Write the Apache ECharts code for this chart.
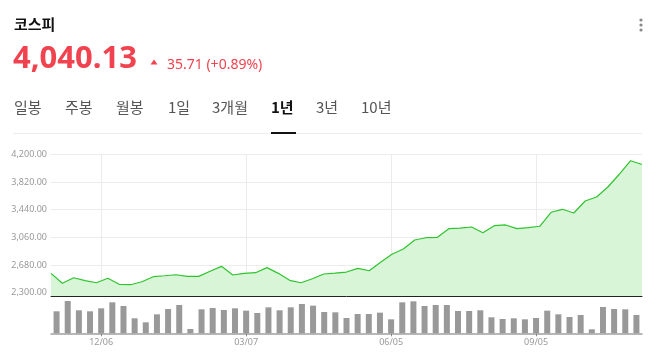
<!DOCTYPE html>
<html>
<head>
<meta charset="utf-8">
<script src="https://cdn.jsdelivr.net/npm/echarts@6/dist/echarts.min.js"></script>
<style>
html,body{margin:0;padding:0;background:#fff;}
#c{width:657px;height:354px;}
</style>
</head>
<body>
<div id="c"></div>
<script>
const dates = ['11/08','11/15','11/22','11/29','12/06','12/13','12/20','12/27','01/03','01/10',
  '01/17','01/24','01/31','02/07','02/14','02/21','02/28','03/07','03/14','03/21',
  '03/28','04/04','04/11','04/18','04/25','05/02','05/09','05/16','05/23','05/30',
  '06/05','06/13','06/20','06/27','07/04','07/11','07/18','07/25','08/01','08/08',
  '08/14','08/22','08/29','09/05','09/12','09/19','09/26','10/02','10/10','10/17',
  '10/24','10/31','11/07'];
const closes = [2566,2429,2506,2465,2437,2498,2415,2410,2451,2520,
  2533,2547,2525,2525,2594,2662,2543,2566,2575,2644,
  2566,2470,2437,2492,2557,2570,2584,2635,2602,2717,
  2827,2900,3024,3055,3061,3179,3188,3202,3124,3220,
  3230,3179,3193,3212,3404,3445,3394,3559,3614,3751,
  3926,4112,4060];
const volumes = [66,97,69,66,75,93,82,45,33,57,
  73,85,13,72,76,70,75,68,61,78,
  69,78,88,83,64,63,46,58,58,62,
  42,93,96,82,85,85,67,67,69,48,
  43,45,42,46,68,57,49,55,12,79,
  73,72,55];
const yTicks = [2300,2680,3060,3440,3820,4200];
const dateLabels = ['12/06','03/07','06/05','09/05'];

const showIdx = (i) => dateLabels.indexOf(dates[i]) >= 0;
const fmt = (v) => {
  const s = v.toFixed(2);
  const [a,b] = s.split('.');
  return a.replace(/\B(?=(\d{3})+(?!\d))/g, ',') + '.' + b;
};

const red = '#f0434f';
const chart = echarts.init(document.getElementById('c'), null, {renderer:'canvas'});
chart.setOption({
  animation:false,
  backgroundColor:'#fff',
  textStyle:{fontFamily:'Noto Sans, "Noto Sans CJK KR", sans-serif'},
  grid:[
    {left:51, right:15, top:154.3, height:141.7},
    {left:51, right:15, top:296, height:37.3}
  ],
  xAxis:[
    {type:'category', gridIndex:0, data:dates, boundaryGap:false,
     axisLine:{show:true, lineStyle:{color:'#222', width:1}},
     axisTick:{show:false}, axisLabel:{show:false}, splitLine:{show:false}},
    {type:'category', gridIndex:0, data:dates, boundaryGap:true, position:'top',
     axisLine:{show:false}, axisTick:{show:false}, axisLabel:{show:false},
     splitLine:{show:true, alignWithLabel:true, interval:(i)=>showIdx(i), lineStyle:{color:'#ebebeb', width:1}}},
    {type:'category', gridIndex:1, data:dates, boundaryGap:true,
     axisLine:{show:true, lineStyle:{color:'#a0a0a0', width:1.5}},
     axisTick:{show:true, alignWithLabel:true, interval:(i)=>showIdx(i), length:3, lineStyle:{color:'#888'}},
     axisLabel:{show:true, interval:(i)=>showIdx(i), color:'#999', fontSize:9, margin:5},
     splitLine:{show:false}}
  ],
  yAxis:[
    {type:'value', gridIndex:0, min:2255, max:4200,
     axisLine:{show:false},
     axisTick:{show:false, customValues:yTicks},
     axisLabel:{show:true, customValues:yTicks, formatter:(v)=>fmt(v), color:'#999', fontSize:9, margin:4},
     splitLine:{show:true, lineStyle:{color:'#ececec', width:1}}},
    {type:'value', gridIndex:1, min:0, max:112, show:false, splitLine:{show:false}}
  ],
  series:[
    {type:'line', xAxisIndex:0, yAxisIndex:0, data:closes, symbol:'none',
     lineStyle:{color:'#2ec42e', width:1.2}, itemStyle:{color:'#2ec42e'},
     areaStyle:{color:'#d8f5d8', opacity:1, origin:'start'}},
    {type:'bar', xAxisIndex:2, yAxisIndex:1, data:volumes, barWidth:6,
     itemStyle:{color:'#999999'}}
  ],
  graphic:[
    {type:'text', left:14, top:17, style:{text:'코스피', fontSize:15, fontWeight:'bold', fill:'#111', fontFamily:'"Noto Sans CJK KR"'}},
    {type:'text', x:13, y:59, style:{text:'4,040.13', fontSize:31, fontWeight:'bold', fill:red, fontFamily:'Noto Sans', textVerticalAlign:'middle'}},
    {type:'polygon', shape:{points:[[150.5,64.5],[157.5,64.5],[154,59.5]]}, style:{fill:red}},
    {type:'text', x:167, y:65, style:{text:'35.71 (+0.89%)', fontSize:14, fill:red, fontFamily:'Noto Sans', textVerticalAlign:'middle'}},
    {type:'text', x:14, y:107, style:{text:'일봉', fontSize:15, fill:'#555', fontFamily:'"Noto Sans CJK KR"', textVerticalAlign:'middle'}},
    {type:'text', x:65, y:107, style:{text:'주봉', fontSize:15, fill:'#555', fontFamily:'"Noto Sans CJK KR"', textVerticalAlign:'middle'}},
    {type:'text', x:116, y:107, style:{text:'월봉', fontSize:15, fill:'#555', fontFamily:'"Noto Sans CJK KR"', textVerticalAlign:'middle'}},
    {type:'text', x:168, y:107, style:{text:'1일', fontSize:15, fill:'#555', fontFamily:'"Noto Sans CJK KR"', textVerticalAlign:'middle'}},
    {type:'text', x:212, y:107, style:{text:'3개월', fontSize:15, fill:'#555', fontFamily:'"Noto Sans CJK KR"', textVerticalAlign:'middle'}},
    {type:'text', x:271, y:107, style:{text:'1년', fontSize:15, fontWeight:'bold', fill:'#111', fontFamily:'"Noto Sans CJK KR"', textVerticalAlign:'middle'}},
    {type:'text', x:316, y:107, style:{text:'3년', fontSize:15, fill:'#555', fontFamily:'"Noto Sans CJK KR"', textVerticalAlign:'middle'}},
    {type:'text', x:361, y:107, style:{text:'10년', fontSize:15, fill:'#555', fontFamily:'"Noto Sans CJK KR"', textVerticalAlign:'middle'}},
    {type:'line', shape:{x1:13, y1:133.5, x2:642, y2:133.5}, style:{stroke:'#ececec', lineWidth:1}},
    {type:'line', shape:{x1:271, y1:133, x2:296, y2:133}, style:{stroke:'#111', lineWidth:2}},
    {type:'circle', shape:{cx:641, cy:20, r:1.6}, style:{fill:'#888'}},
    {type:'circle', shape:{cx:641, cy:25, r:1.6}, style:{fill:'#888'}},
    {type:'circle', shape:{cx:641, cy:30, r:1.6}, style:{fill:'#888'}}
  ]
});
</script>
</body>
</html>
